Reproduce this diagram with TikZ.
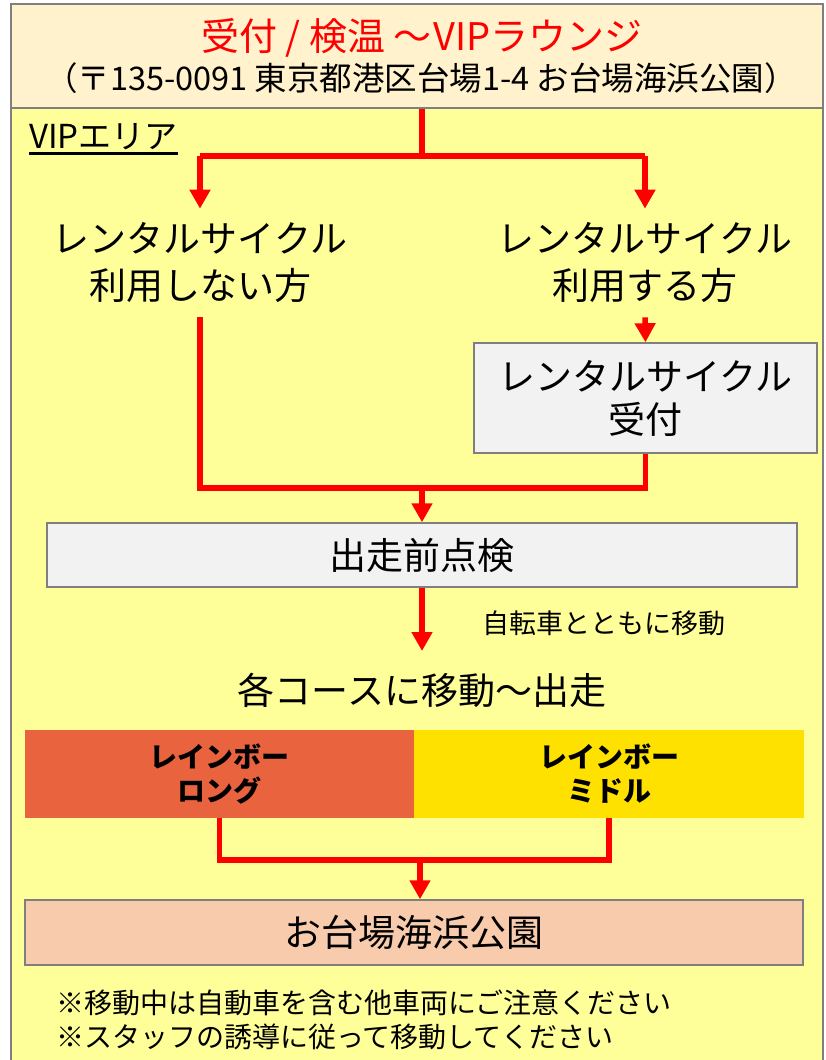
\documentclass[tikz,border=0pt]{standalone}
\usepackage{fontspec}
\setmainfont{Noto Sans CJK JP}
\usetikzlibrary{arrows.meta}
\definecolor{hdrfill}{HTML}{FFF2CC}
\definecolor{areafill}{HTML}{FFFF99}
\definecolor{boxgray}{HTML}{F2F2F2}
\definecolor{frameGray}{HTML}{7F7F7F}
\definecolor{arrowred}{HTML}{FF0000}
\definecolor{longfill}{HTML}{EA633F}
\definecolor{midfill}{HTML}{FFE100}
\definecolor{parkfill}{HTML}{F8CBAD}
\begin{document}
\begin{tikzpicture}[x=1pt,y=-1pt,
  conn/.style={draw=arrowred, line width=5.5pt},
  arr/.style={conn, -{Triangle[width=20pt,length=19pt]}},
  graybox/.style={draw=frameGray, line width=1.5pt, fill=boxgray, inner sep=0pt, align=center},
  bigtxt/.style={font=\fontsize{37}{47}\selectfont, align=center, inner sep=0pt},
  course/.style={inner sep=0pt, align=center, minimum height=88pt, font=\bfseries\fontsize{28}{34}\selectfont}
]
\useasboundingbox (0,0) rectangle (826,1060);
% frame
\node[draw=frameGray, line width=2pt, fill=areafill, anchor=north west,
      minimum width=812pt, minimum height=980pt, inner sep=0pt] (area) at (10,107) {};
\node[draw=frameGray, line width=2pt, fill=hdrfill, anchor=north west,
      minimum width=812pt, minimum height=104pt, inner sep=0pt] (hdr) at (10,3) {};
\node[text=arrowred, font=\fontsize{38}{44}\selectfont, inner sep=0pt] (title) at (422,38) {受付 / 検温 ～\kern2pt VIPラウンジ};
\node[font=\fontsize{32.5}{36}\selectfont, inner sep=0pt] (addr) at (421,78) {（〒135-0091 東京都港区台場1-4 お台場海浜公園）};
\node[anchor=west, font=\fontsize{33}{38}\selectfont, inner sep=0pt] (vip) at (29,137) {VIPエリア};
\draw[line width=2.5pt] ([yshift=-3pt]vip.south west) -- ([yshift=-3pt]vip.south east);

% options
\node[bigtxt, inner ysep=14pt] (noUse) at (200,263) {レンタルサイクル\\利用しない方};
\node[bigtxt, inner ysep=14pt] (use) at (645,263) {レンタルサイクル\\利用する方};
\coordinate (split) at (422,156);
\draw[conn] (split |- hdr.south) -- (split);
\draw[conn] (noUse.north |- split) -- (use.north |- split);
\draw[arr] (noUse.north |- split) -- (noUse.north);
\draw[arr] (use.north |- split) -- (use.north);

\node[graybox, minimum width=343pt, minimum height=110pt, font=\fontsize{37}{43}\selectfont] (rent) at (645.5,398) {レンタルサイクル\\受付};
\draw[arr] (use.south) -- (rent.north);

\coordinate (merge) at (422,488);
\draw[conn] (noUse.south) -- (noUse.south |- merge) -- (rent.south |- merge) -- (rent.south);

\node[graybox, minimum width=750pt, minimum height=64pt, font=\fontsize{37}{44}\selectfont] (check) at (422,555) {出走前点検};
\draw[arr] (merge) -- (check.north);

\node[font=\fontsize{27}{32}\selectfont, inner sep=0pt] (bike) at (604,623) {自転車とともに移動};
\coordinate (moveTop) at (422,651);
\draw[arr] (check.south) -- (moveTop);
\node[bigtxt] (move) at (422,690) {各コースに移動～出走};

% courses
\node[course, fill=longfill, minimum width=389pt] (long) at (219.5,774) {レインボー\\ロング};
\node[course, fill=midfill, minimum width=390pt] (midl) at (609,774) {レインボー\\ミドル};
\coordinate (join) at (420,860);
\draw[conn] (long.south) -- (long.south |- join) -- (midl.south |- join) -- (midl.south);

\node[draw=frameGray, line width=1.5pt, fill=parkfill, minimum width=778pt, minimum height=65pt, inner sep=0pt,
      font=\fontsize{37}{44}\selectfont] (park) at (414,932.5) {お台場海浜公園};
\draw[arr] (join) -- (join |- park.north);

\node[anchor=west, align=left, font=\fontsize{28}{34}\selectfont, inner sep=0pt] (notes) at (56,1020)
  {※移動中は自動車を含む他車両にご注意ください\\※スタッフの誘導に従って移動してください};
\end{tikzpicture}
\end{document}
